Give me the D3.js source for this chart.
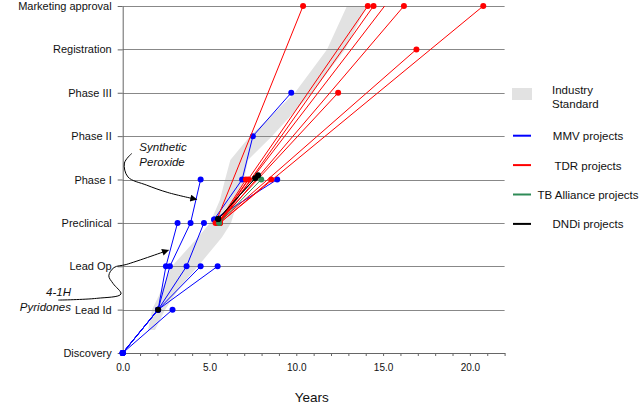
<!DOCTYPE html>
<html>
<head>
<meta charset="utf-8">
<script src="https://cdn.jsdelivr.net/npm/d3@7"></script>
<style>
    html, body { margin: 0; padding: 0; background: #fff; }
    svg { display: block; font-family: "Liberation Sans", Arial, Helvetica, sans-serif; }
</style>
</head>
<body>
<svg id="chart" width="644" height="406"></svg>
<script>
// stages on the y axis, bottom to top
const stages = ['Discovery', 'Lead Id', 'Lead Op', 'Preclinical', 'Phase I',
                'Phase II', 'Phase III', 'Registration', 'Marketing approval']
const yearTicks  = d3.range(0, 23)
const yearLabels = [0, 5, 10, 15, 20]

// each project is a list of [years, stage]
const mmvProjects = [
    [[0, 0], [2.04, 1], [2.49, 2], [3.16, 3]],
    [[0, 0], [2.04, 1], [2.72, 2], [3.91, 3], [4.49, 4]],
    [[0, 0], [2.04, 1], [3.68, 2], [4.68, 3]],
    [[0, 0], [2.04, 1], [4.49, 2]],
    [[0, 0], [2.04, 1], [5.47, 2]],
    [[0, 0], [2.87, 1]],
    [[5.27, 3.08], [6.88, 4], [7.5, 5], [9.71, 6]],
    [[5.27, 3.08], [8.9, 4]]
]
const tdrProjects = [
    [[5.35, 3], [10.39, 8]],
    [[5.5, 3], [7.1, 4]],
    [[5.55, 3], [7.25, 4]],
    [[5.5, 3], [14.12, 8]],
    [[5.6, 3], [14.45, 8]],
    [[5.55, 3], [16.2, 8]],
    [[5.6, 3], [20.77, 8]],
    [[5.5, 3], [16.92, 7]],
    [[5.45, 3], [12.41, 6]],
    [[5.6, 3], [8.56, 4]]
]
// drawn without an end marker
const tdrOpen = [
    [[5.5, 3], [15.09, 8]]
]
const tbProjects = [
    [[5.55, 3], [7.98, 4]]
]
const dndiProjects = [
    [[5.5, 3.09], [7.63, 4.03]],
    [[5.5, 3.09], [7.8, 4.1]],
    [[2.04, 1]]
]

// industry standard band: left edge bottom->top, right edge top->bottom
const bandLeft = [[1.46, 0.53], [1.69, 1], [2.32, 1.52], [2.84, 2], [4.34, 2.67], [5.03, 3],
                  [5.6, 3.53], [5.9, 4], [6.2, 4.45], [7.33, 5], [9.92, 6], [11.77, 7], [12.92, 8]]
const bandRight = [[14.07, 8], [12.81, 7], [10.9, 6], [8.6, 5], [7.22, 4.45], [6.99, 4], [6.64, 3.53],
                   [6.24, 3], [5.72, 2.67], [4.34, 2], [3.3, 1.52], [2.44, 1], [1.86, 0.53]]

// annotations, in [years, stage]
const peroxideArrow = [[0.52, 4.60], [0.1, 4.38], [0.3, 4.06], [1.38, 3.87],
                       [2.6, 3.70], [4.26, 3.54]]
const pyridoneArrow = [[-3.71, 1.22], [-1.50, 1.26], [-0.1, 1.36], [-0.55, 1.6],
                       [-0.8, 1.78], [-0.5, 1.97], [0.2, 2.04], [2.63, 2.37]]

const legendSeries = [
    { label: 'MMV projects',         color: '#0000ff' },
    { label: 'TDR projects',         color: '#ff0000' },
    { label: 'TB Alliance projects', color: '#2e8b57' },
    { label: 'DNDi projects',        color: '#000000' }
]

const svg = d3.select('#chart')
const x = d3.scaleLinear().domain([0, 22]).range([122.7, 504.6])
const y = d3.scaleLinear().domain([0, 8]).range([353, 6])

// band
svg.append('path')
    .datum(bandLeft.concat(bandRight))
    .attr('d', d3.line().x(d => x(d[0])).y(d => y(d[1])))
    .attr('fill', '#e2e2e2')

// gridlines
svg.append('g').selectAll('line').data(d3.range(1, 9)).join('line')
    .attr('x1', x(0)).attr('x2', x(22))
    .attr('y1', d => Math.round(y(d)) + 0.5).attr('y2', d => Math.round(y(d)) + 0.5)
    .attr('stroke', '#888')

// y axis
const yAxis = svg.append('g')
    .attr('transform', `translate(${x(0)},0)`)
    .call(d3.axisLeft(y).tickValues(d3.range(0, 9)).tickFormat(i => stages[i])
        .tickSize(5).tickSizeOuter(0).tickPadding(6))
yAxis.select('.domain').attr('stroke', '#666')
yAxis.selectAll('line').attr('stroke', '#666')
yAxis.selectAll('text').attr('font-size', 11).attr('fill', '#111')
    .attr('font-family', '"Liberation Sans", Arial, sans-serif')

// x axis
const xAxis = svg.append('g')
    .attr('transform', `translate(0,${y(0)})`)
    .call(d3.axisBottom(x).tickValues(yearTicks)
        .tickFormat(d => yearLabels.includes(d) ? d3.format('.1f')(d) : '')
        .tickSize(3).tickSizeOuter(0).tickPadding(8))
xAxis.select('.domain').attr('stroke', '#666')
xAxis.selectAll('line').attr('stroke', '#666')
xAxis.selectAll('text').attr('font-size', 10).attr('fill', '#111')
    .attr('font-family', '"Liberation Sans", Arial, sans-serif')

svg.append('text')
    .attr('x', (x(0) + x(22)) / 2 - 2).attr('y', 402)
    .attr('text-anchor', 'middle')
    .attr('font-size', 13.5).attr('fill', '#111')
    .text('Years')

// projects
const line = d3.line().x(d => x(d[0])).y(d => y(d[1]))

const drawProjects = (projects, color, dots) => {
    const g = svg.append('g')

    g.selectAll('path').data(projects).join('path')
        .attr('d', line)
        .attr('fill', 'none')
        .attr('stroke', color)
        .attr('stroke-width', 1)

    if (dots) {
        g.selectAll('circle').data(projects.flat()).join('circle')
            .attr('cx', d => x(d[0]))
            .attr('cy', d => y(d[1]))
            .attr('r', 3)
            .attr('fill', color)
    }
}

drawProjects(mmvProjects,  '#0000ff', true)
drawProjects(tdrOpen,      '#ff0000', false)
drawProjects(tdrProjects,  '#ff0000', true)
drawProjects(tbProjects,   '#2e8b57', true)
drawProjects(dndiProjects, '#000000', true)

// annotations
svg.append('defs').append('marker')
    .attr('id', 'arrow')
    .attr('viewBox', '0 0 10 10')
    .attr('refX', 9).attr('refY', 5)
    .attr('markerWidth', 9).attr('markerHeight', 7)
    .attr('markerUnits', 'userSpaceOnUse')
    .attr('orient', 'auto')
  .append('path')
    .attr('d', 'M0,0 L10,5 L0,10 z')
    .attr('fill', '#000')

const curve = d3.line().x(d => x(d[0])).y(d => y(d[1])).curve(d3.curveCatmullRom.alpha(0.5))

;[peroxideArrow, pyridoneArrow].forEach(pts => {
    svg.append('path')
        .datum(pts)
        .attr('d', curve)
        .attr('fill', 'none')
        .attr('stroke', '#000')
        .attr('stroke-width', 1)
        .attr('marker-end', 'url(#arrow)')
})

const note = (lines, anchor, px, py) => {
    svg.append('g').selectAll('text').data(lines).join('text')
        .attr('x', x(px))
        .attr('y', (d, i) => y(py) + i * 15)
        .attr('text-anchor', anchor)
        .attr('font-size', 11.5)
        .attr('font-style', 'italic')
        .attr('fill', '#111')
        .text(d => d)
}
note(['Synthetic', 'Peroxide'], 'start', 0.96, 4.66)
note(['4-1H', 'Pyridones'], 'end', -2.98, 1.31)

// legend
const legend = svg.append('g')

legend.append('rect')
    .attr('x', 512).attr('y', 88).attr('width', 20).attr('height', 12)
    .attr('fill', '#e2e2e2')
legend.selectAll('text.band').data(['Industry', 'Standard']).join('text')
    .attr('class', 'band')
    .attr('x', 552).attr('y', (d, i) => 94 + i * 13.5)
    .attr('font-size', 11.5).attr('fill', '#111')
    .text(d => d)

const items = legend.selectAll('g.item').data(legendSeries).join('g')
    .attr('class', 'item')
    .attr('transform', (d, i) => `translate(0,${135.7 + i * 29.4})`)

items.append('line')
    .attr('x1', 513).attr('x2', 531)
    .attr('stroke', d => d.color).attr('stroke-width', 2)

items.append('text')
    .attr('x', 588).attr('y', 4.5)
    .attr('text-anchor', 'middle')
    .attr('font-size', 11.5).attr('fill', '#111')
    .text(d => d.label)
</script>
</body>
</html>
